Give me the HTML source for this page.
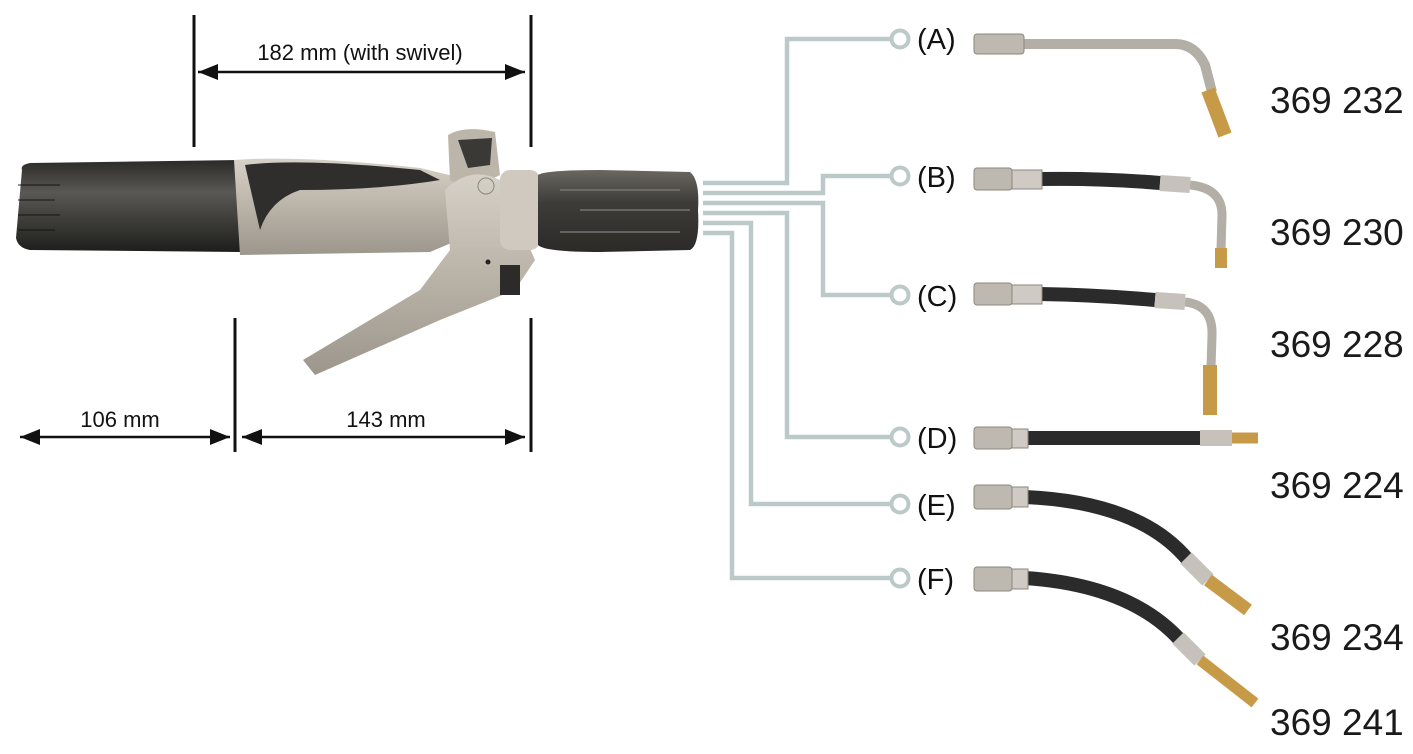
<!DOCTYPE html>
<html><head><meta charset="utf-8"><style>
html,body{margin:0;padding:0;background:#fff;}
svg{display:block}
text{font-family:"Liberation Sans",sans-serif;}
</style></head><body>
<svg width="1413" height="754" viewBox="0 0 1413 754" xmlns="http://www.w3.org/2000/svg">
<defs>
<marker id="ar" viewBox="0 0 10 10" refX="10" refY="5" markerWidth="8" markerHeight="8" orient="auto-start-reverse"><path d="M0,1 L10,5 L0,9 Z" fill="#111"/></marker>
<linearGradient id="blk" x1="0" y1="0" x2="0" y2="1"><stop offset="0" stop-color="#2a2a28"/><stop offset="0.35" stop-color="#5a5854"/><stop offset="1" stop-color="#1e1e1c"/></linearGradient>
<linearGradient id="sil" x1="0" y1="0" x2="0" y2="1"><stop offset="0" stop-color="#d6d1c8"/><stop offset="0.5" stop-color="#bab3a8"/><stop offset="1" stop-color="#9c968c"/></linearGradient>
<linearGradient id="nut" x1="0" y1="0" x2="0" y2="1"><stop offset="0" stop-color="#6a6761"/><stop offset="0.4" stop-color="#3e3c39"/><stop offset="1" stop-color="#2b2a28"/></linearGradient>
</defs>

<!-- dimension lines -->
<g stroke="#111" stroke-width="3">
<line x1="194" y1="15" x2="194" y2="147"/>
<line x1="531" y1="15" x2="531" y2="147"/>
<line x1="235" y1="318" x2="235" y2="452"/>
<line x1="531" y1="318" x2="531" y2="452"/>
</g>
<g stroke="#111" stroke-width="2.5">
<line x1="198" y1="72" x2="525" y2="72" marker-start="url(#ar)" marker-end="url(#ar)"/>
<line x1="20" y1="437" x2="230" y2="437" marker-start="url(#ar)" marker-end="url(#ar)"/>
<line x1="242" y1="437" x2="525" y2="437" marker-start="url(#ar)" marker-end="url(#ar)"/>
</g>
<g font-size="22" fill="#111" text-anchor="middle">
<text x="360" y="60">182 mm (with swivel)</text>
<text x="120" y="427">106 mm</text>
<text x="386" y="427">143 mm</text>
</g>

<!-- gun -->
<path d="M22,170 Q20,165 30,163 L240,160 L240,252 L30,250 Q18,248 16,238 Z" fill="url(#blk)"/>
<g stroke="#111" stroke-width="1.5" opacity="0.6"><line x1="18" y1="185" x2="60" y2="185"/><line x1="18" y1="200" x2="55" y2="200"/><line x1="18" y1="215" x2="60" y2="215"/><line x1="18" y1="230" x2="55" y2="230"/></g>
<path d="M234,160 Q300,155 420,168 L470,180 L520,200 L525,240 L470,235 L430,252 L240,255 Z" fill="url(#sil)"/>
<path d="M245,165 Q300,158 420,170 L440,180 Q380,190 300,190 Q270,200 260,230 Z" fill="#2f2e2c"/>
<path d="M448,135 Q465,125 495,132 L500,175 L470,190 L450,180 Z" fill="#bcb5aa"/>
<path d="M458,140 L492,138 L490,165 L468,168 Z" fill="#3a3936"/>
<path d="M445,190 Q470,165 500,180 L535,260 L515,290 L440,320 L315,375 L303,360 L420,290 L450,250 Z" fill="url(#sil)"/>
<circle cx="486" cy="186" r="8" fill="none" stroke="#8d877d"/>
<circle cx="488" cy="262" r="2.5" fill="#222"/>
<rect x="500" y="170" width="40" height="80" rx="10" fill="#cfc9bf"/>
<rect x="500" y="265" width="20" height="30" fill="#2c2b29"/>
<path d="M538,175 Q545,170 600,170 L690,172 Q700,180 698,210 Q700,245 690,250 L600,252 Q545,252 538,245 Z" fill="url(#nut)"/>
<g stroke="#7a7771" stroke-width="2" opacity="0.7"><line x1="560" y1="190" x2="680" y2="190"/><line x1="580" y1="210" x2="690" y2="210"/><line x1="560" y1="232" x2="680" y2="232"/></g>

<!-- connectors -->
<g fill="none" stroke="#bcc9c9" stroke-width="4.5">
<polyline points="703,183 787,183 787,39 892,39"/>
<polyline points="703,193 823,193 823,176 892,176"/>
<polyline points="703,203 823,203 823,295 892,295"/>
<polyline points="703,213 787,213 787,437 892,437"/>
<polyline points="703,223 751,223 751,504 892,504"/>
<polyline points="703,233 732,233 732,578 892,578"/>
</g>
<g fill="#fff" stroke="#bcc9c9" stroke-width="4">
<circle cx="900" cy="39" r="8.5"/><circle cx="900" cy="176" r="8.5"/><circle cx="900" cy="295" r="8.5"/>
<circle cx="900" cy="437" r="8.5"/><circle cx="900" cy="504" r="8.5"/><circle cx="900" cy="578" r="8.5"/>
</g>
<g font-size="29" fill="#111">
<text x="917" y="49">(A)</text><text x="917" y="187">(B)</text><text x="917" y="306">(C)</text>
<text x="917" y="448">(D)</text><text x="917" y="515">(E)</text><text x="917" y="589">(F)</text>
</g>
<g font-size="37" fill="#1a1a1a">
<text x="1270" y="113">369 232</text>
<text x="1270" y="245">369 230</text>
<text x="1270" y="357">369 228</text>
<text x="1270" y="498">369 224</text>
<text x="1270" y="650">369 234</text>
<text x="1270" y="735">369 241</text>
</g>

<!-- fittings -->
<g fill="none" stroke-linecap="butt" stroke-linejoin="round">
<!-- A -->
<path d="M1024,44 L1175,44 Q1195,44 1205,65 L1212,92" stroke="#b3aea6" stroke-width="10"/>
<path d="M1208,90 L1225,135" stroke="#c79a48" stroke-width="14"/>
<!-- B -->
<path d="M1040,179 Q1100,178 1160,183" stroke="#2b2b2b" stroke-width="14"/>
<path d="M1160,183 L1190,185" stroke="#c6c2bb" stroke-width="16"/>
<path d="M1190,185 Q1222,188 1222,215 L1221,250" stroke="#b3aea6" stroke-width="9"/>
<path d="M1221,248 L1221,268" stroke="#c79a48" stroke-width="12"/>
<!-- C -->
<path d="M1040,294 Q1100,295 1155,300" stroke="#2b2b2b" stroke-width="14"/>
<path d="M1155,300 L1185,302" stroke="#c6c2bb" stroke-width="16"/>
<path d="M1185,302 Q1213,305 1212,335 L1211,368" stroke="#b3aea6" stroke-width="9"/>
<path d="M1210,365 L1210,415" stroke="#c79a48" stroke-width="14"/>
<!-- D -->
<path d="M1025,438 L1200,438" stroke="#2b2b2b" stroke-width="14"/>
<path d="M1200,438 L1232,438" stroke="#c6c2bb" stroke-width="16"/>
<path d="M1232,438 L1258,438" stroke="#c79a48" stroke-width="11"/>
<!-- E -->
<path d="M1025,497 Q1140,502 1188,560" stroke="#2b2b2b" stroke-width="14"/>
<path d="M1186,558 L1208,580" stroke="#c6c2bb" stroke-width="16"/>
<path d="M1208,580 L1248,610" stroke="#c79a48" stroke-width="13"/>
<!-- F -->
<path d="M1025,578 Q1130,585 1180,640" stroke="#2b2b2b" stroke-width="14"/>
<path d="M1178,638 L1200,660" stroke="#c6c2bb" stroke-width="16"/>
<path d="M1200,660 L1255,703" stroke="#c79a48" stroke-width="11"/>
</g>
<g fill="#bdb8b0" stroke="#8c877f" stroke-width="1">
<rect x="974" y="34" width="50" height="20" rx="3"/>
<rect x="974" y="168" width="38" height="22" rx="3"/><rect x="1012" y="170" width="30" height="19" fill="#cfcac3"/>
<rect x="974" y="283" width="38" height="22" rx="3"/><rect x="1012" y="285" width="30" height="19" fill="#cfcac3"/>
<rect x="974" y="427" width="38" height="22" rx="3"/><rect x="1012" y="429" width="16" height="19" fill="#cfcac3"/>
<rect x="974" y="485" width="38" height="24" rx="3"/><rect x="1012" y="487" width="16" height="20" fill="#cfcac3"/>
<rect x="974" y="567" width="38" height="24" rx="3"/><rect x="1012" y="569" width="16" height="20" fill="#cfcac3"/>
</g>
</svg>
</body></html>
